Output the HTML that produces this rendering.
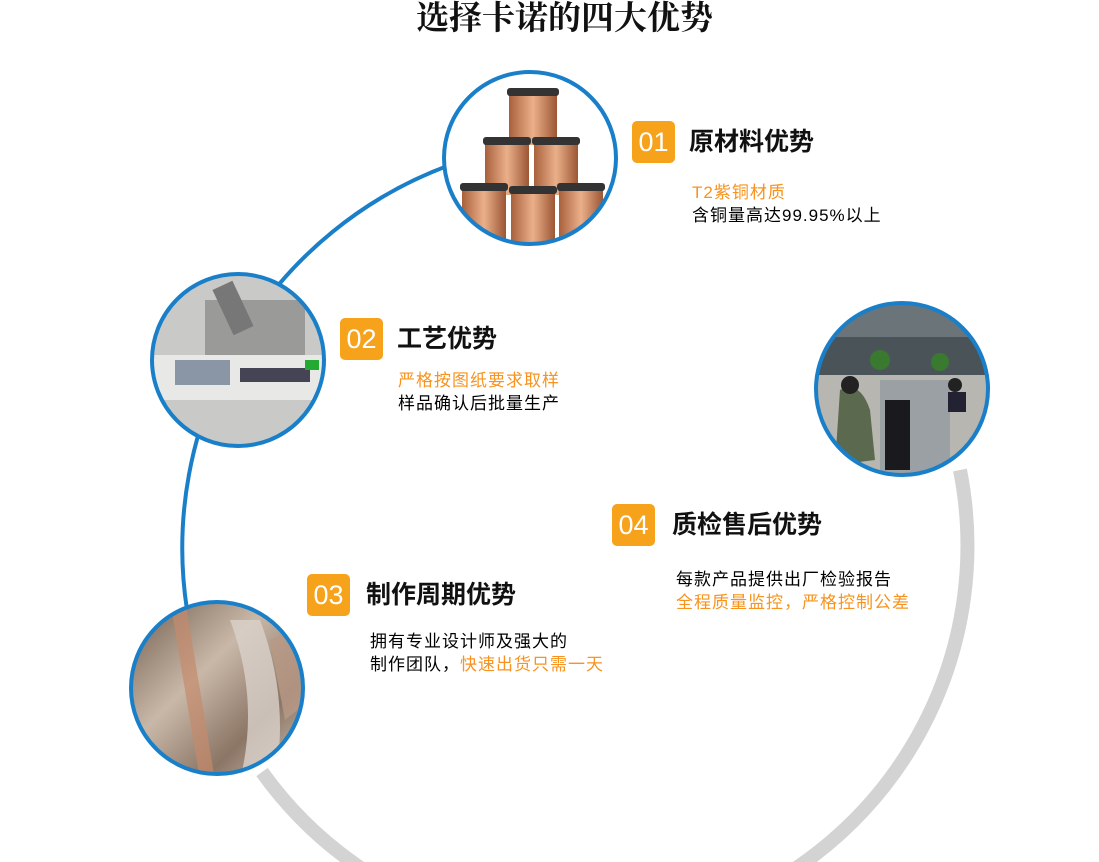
<!DOCTYPE html>
<html><head><meta charset="utf-8"><style>
html,body{margin:0;padding:0;background:#fff;width:1099px;height:862px;overflow:hidden;position:relative;font-family:"Liberation Sans","Noto Sans CJK SC",sans-serif}
.t{position:absolute;white-space:nowrap}
.b{position:absolute;width:43px;height:42px;background:#f7a21b;border-radius:5px;color:#fff;font-size:27px;line-height:42px;text-align:center}
.h{position:absolute;font-size:25px;font-weight:bold;color:#111;line-height:30px;white-space:nowrap}
.s{position:absolute;font-size:17px;line-height:23px;color:#000;white-space:nowrap;letter-spacing:1px}
.o{color:#f7931e}
</style></head><body>
<svg width="1099" height="862" style="position:absolute;left:0;top:0">
<defs>
<clipPath id="c1"><circle cx="530" cy="158" r="86"/></clipPath>
<clipPath id="c2"><circle cx="238" cy="360" r="86"/></clipPath>
<clipPath id="c3"><circle cx="217" cy="688" r="86"/></clipPath>
<clipPath id="c4"><circle cx="902" cy="389" r="86"/></clipPath>
<linearGradient id="cu" x1="0" x2="1"><stop offset="0" stop-color="#a9603c"/><stop offset=".5" stop-color="#eab08a"/><stop offset="1" stop-color="#9c5634"/></linearGradient>
<linearGradient id="st" x1="0" y1="0" x2="1" y2="1"><stop offset="0" stop-color="#6e5a4c"/><stop offset=".4" stop-color="#c9b8a8"/><stop offset=".7" stop-color="#8b7565"/><stop offset="1" stop-color="#d6cbc0"/></linearGradient>
</defs>
<path d="M960 470 A389 389 0 0 1 262 772" fill="none" stroke="#d3d3d3" stroke-width="14"/>
<path d="M450 165 A408 408 0 0 0 187 610" fill="none" stroke="#1a7fc9" stroke-width="4"/>
<g clip-path="url(#c1)"><rect x="440" y="70" width="180" height="180" fill="#fff"/>
<rect x="509" y="90" width="48" height="55" fill="url(#cu)"/><rect x="507" y="88" width="52" height="8" rx="3" fill="#333"/>
<rect x="485" y="140" width="44" height="55" fill="url(#cu)"/><rect x="483" y="137" width="48" height="8" rx="3" fill="#333"/>
<rect x="534" y="140" width="44" height="55" fill="url(#cu)"/><rect x="532" y="137" width="48" height="8" rx="3" fill="#333"/>
<rect x="462" y="190" width="44" height="60" fill="url(#cu)"/><rect x="460" y="183" width="48" height="8" rx="3" fill="#333"/>
<rect x="511" y="190" width="44" height="60" fill="url(#cu)"/><rect x="509" y="186" width="48" height="8" rx="3" fill="#333"/>
<rect x="559" y="190" width="44" height="60" fill="url(#cu)"/><rect x="557" y="183" width="48" height="8" rx="3" fill="#333"/></g>
<circle cx="530" cy="158" r="86" fill="none" stroke="#1a7fc9" stroke-width="4"/>
<g clip-path="url(#c2)"><rect x="150" y="272" width="180" height="180" fill="#c9c9c7"/>
<rect x="150" y="355" width="180" height="45" fill="#e8e8e6"/>
<rect x="175" y="360" width="55" height="25" fill="#8a96a6"/>
<rect x="205" y="300" width="100" height="55" fill="#9a9a98"/>
<rect x="222" y="283" width="22" height="50" fill="#777" transform="rotate(-25 233 308)"/>
<rect x="240" y="368" width="70" height="14" fill="#445"/>
<rect x="305" y="360" width="14" height="10" fill="#2a3"/></g>
<circle cx="238" cy="360" r="86" fill="none" stroke="#1a7fc9" stroke-width="4"/>
<g clip-path="url(#c3)"><rect x="130" y="600" width="180" height="180" fill="url(#st)"/>
<path d="M170 600 L200 780 L215 780 L185 600Z" fill="#c48a6c" opacity=".7"/>
<path d="M230 620 Q260 700 240 780 L275 780 Q290 700 260 620Z" fill="#d9d2cb" opacity=".8"/>
<path d="M270 640 L310 620 L310 700 L285 720Z" fill="#b89a86" opacity=".8"/></g>
<circle cx="217" cy="688" r="86" fill="none" stroke="#1a7fc9" stroke-width="4"/>
<g clip-path="url(#c4)"><rect x="814" y="302" width="180" height="180" fill="#4a5358"/>
<rect x="814" y="302" width="180" height="35" fill="#6b7478"/>
<rect x="814" y="375" width="180" height="100" fill="#b8b6b0"/>
<rect x="880" y="380" width="70" height="100" fill="#9aa0a3"/>
<path d="M840 390 Q860 380 870 410 L875 460 L835 465Z" fill="#5b6a4e"/>
<circle cx="850" cy="385" r="9" fill="#222"/>
<rect x="885" y="400" width="25" height="70" fill="#1a1a1e"/>
<circle cx="955" cy="385" r="7" fill="#222"/><rect x="948" y="392" width="18" height="20" fill="#223"/>
<circle cx="880" cy="360" r="10" fill="#3a7a30"/><circle cx="940" cy="362" r="9" fill="#3a7a30"/></g>
<circle cx="902" cy="389" r="86" fill="none" stroke="#1a7fc9" stroke-width="4"/>
</svg>
<div class="t" style="left:416px;width:296px;text-align:center;top:0;font-family:'Liberation Serif','Noto Serif CJK SC',serif;font-weight:bold;font-size:33px;line-height:38px;color:#111">选择卡诺的四大优势</div>

<div class="b" style="left:632px;top:121px">01</div>
<div class="h" style="left:689px;top:127px">原材料优势</div>
<div class="s o" style="left:692px;top:181px">T2紫铜材质</div>
<div class="s" style="left:692px;top:204px">含铜量高达99.95%以上</div>

<div class="b" style="left:340px;top:318px">02</div>
<div class="h" style="left:397px;top:324px">工艺优势</div>
<div class="s o" style="left:398px;top:369px">严格按图纸要求取样</div>
<div class="s" style="left:398px;top:392px">样品确认后批量生产</div>

<div class="b" style="left:307px;top:574px">03</div>
<div class="h" style="left:366px;top:580px">制作周期优势</div>
<div class="s" style="left:370px;top:630px">拥有专业设计师及强大的</div>
<div class="s" style="left:370px;top:653px">制作团队，<span class="o">快速出货只需一天</span></div>

<div class="b" style="left:612px;top:504px">04</div>
<div class="h" style="left:672px;top:510px">质检售后优势</div>
<div class="s" style="left:676px;top:568px">每款产品提供出厂检验报告</div>
<div class="s o" style="left:676px;top:591px">全程质量监控，严格控制公差</div>
</body></html>
